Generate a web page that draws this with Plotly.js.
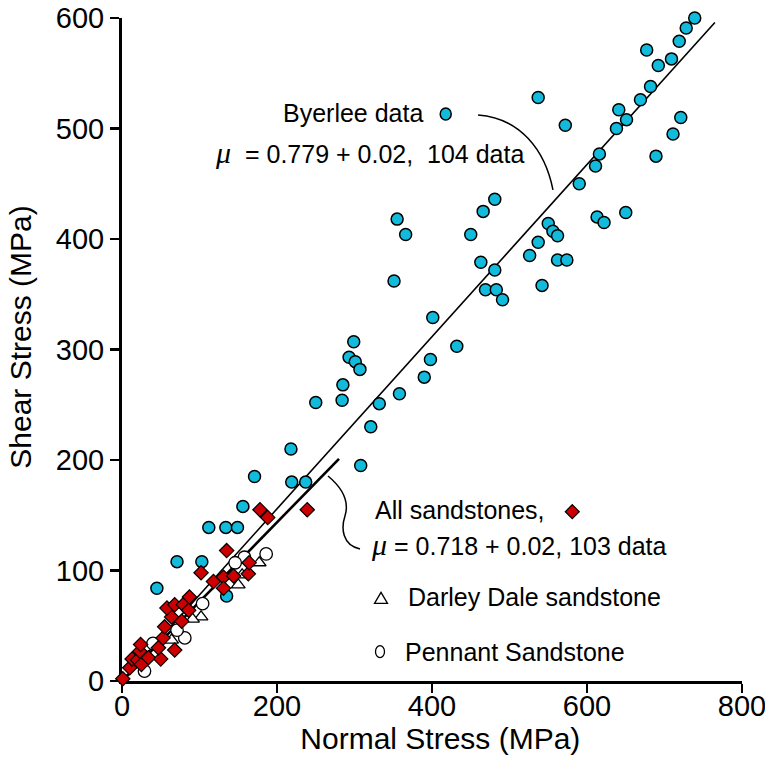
<!DOCTYPE html>
<html>
<head>
<meta charset="utf-8">
<script src="https://cdn.plot.ly/plotly-3.0.1.min.js"></script>
<style>html,body{margin:0;padding:0;background:#fff}#chart{width:765px;height:758px}</style>
</head>
<body>
<div id="chart"></div>
<script>
// Byerlee data (normal stress, shear stress) in MPa
const byerleeX = [739,728,719,677,709,692,682,669,537,641,651,638,721,711,572,616,611,689,590,481,466,450,650,613,622,550,556,562,537,526,562,574,463,481,469,483,491,542,401,366,355,351,398,390,358,432,299,293,301,307,285,284,250,332,321,308,218,171,219,237,156,112,134,149,71,103,45,135];
const byerleeY = [600,591,579,571,563,557,538,526,528,517,508,500,510,495,503,477,466,475,450,436,425,404,424,420,415,414,407,403,397,385,381,381,379,372,354,354,345,358,329,404,418,362,291,275,260,303,307,293,289,282,268,254,252,251,230,195,210,185,180,180,158,139,139,139,108,108,84,77];

// All sandstones
const sandX = [1,10,13,20,25,23,24,34,50,47,68,53,55,77,64,58,68,79,86,87,102,118,131,131,144,163,164,135,178,188,239];
const sandY = [2,12,20,19,15,27,33,21,20,30,28,39,49,54,58,66,69,69,64,76,98,90,94,84,95,97,107,118,155,148,155];

// Darley Dale sandstone
const darleyX = [177,155,150,102,91,64];
const darleyY = [107,96,87,58,56,37];

// Pennant Sandstone
const pennantX = [186,158,146,104,81,71,40,29];
const pennantY = [115,112,107,70,39,46,34,9];

// Friction fits: tau = mu * sigma_n
const muByerlee = 0.779;
const muSand = 0.718;
const byerleeFitX = [0, 765];
const sandFitX = [0, 280];

const xTicks = [0, 200, 400, 600, 800];
const yTicks = [0, 100, 200, 300, 400, 500, 600];

const FONT = 'Liberation Sans, Arial, Helvetica, sans-serif';
const CYAN = '#12BBDB';
const RED = '#CC0000';

const traces = [
  {x: byerleeFitX, y: byerleeFitX.map(v => v * muByerlee), mode: 'lines', type: 'scatter',
   line: {color: '#000', width: 1.6}, hoverinfo: 'skip', showlegend: false, cliponaxis: false},
  {x: sandFitX, y: sandFitX.map(v => v * muSand), mode: 'lines', type: 'scatter',
   line: {color: '#000', width: 2.6}, hoverinfo: 'skip', showlegend: false, cliponaxis: false},
  {x: byerleeX, y: byerleeY, mode: 'markers', type: 'scatter', name: 'Byerlee data',
   marker: {symbol: 'circle', size: 12, color: CYAN, line: {color: '#000', width: 1.5}},
   showlegend: false, cliponaxis: false},
  {x: pennantX, y: pennantY, mode: 'markers', type: 'scatter', name: 'Pennant Sandstone',
   marker: {symbol: 'circle', size: 12.5, color: '#fff', line: {color: '#000', width: 1.3}},
   showlegend: false, cliponaxis: false},
  {x: darleyX, y: darleyY, mode: 'markers', type: 'scatter', name: 'Darley Dale sandstone',
   marker: {symbol: 'triangle-up', size: 12, color: '#fff', line: {color: '#000', width: 1.3}},
   showlegend: false, cliponaxis: false},
  {x: sandX, y: sandY, mode: 'markers', type: 'scatter', name: 'All sandstones',
   marker: {symbol: 'diamond', size: 11, color: RED, line: {color: '#000', width: 1.2}},
   showlegend: false, cliponaxis: false}
];

const mu = '<span style="font-family:Liberation Serif, Times New Roman, serif;font-size:30px"><i>μ</i></span>';

const annFont = {family: FONT, size: 25, color: '#000'};
const layout = {
  width: 765, height: 758,
  margin: {l: 122, r: 23, t: 18, b: 77, pad: 0},
  paper_bgcolor: '#fff', plot_bgcolor: '#fff',
  showlegend: false,
  font: {family: FONT, color: '#000'},
  xaxis: {
    range: [0, 800], tickvals: xTicks, ticktext: xTicks.map(String),
    showgrid: false, zeroline: false, showline: true, linecolor: '#000', linewidth: 3,
    ticks: 'outside', ticklen: 9, tickwidth: 2.5, tickcolor: '#000',
    ticklabeloverflow: 'allow', ticklabelstandoff: -12,
    tickfont: {family: FONT, size: 29, color: '#000'}, layer: 'below traces',
    title: {text: '&nbsp;&nbsp;Normal Stress (MPa)', font: {family: FONT, size: 30, color: '#000'}, standoff: 8}
  },
  yaxis: {
    range: [0, 600], tickvals: yTicks, ticktext: yTicks.map(String),
    showgrid: false, zeroline: false, showline: true, linecolor: '#000', linewidth: 3,
    ticks: 'outside', ticklen: 9, tickwidth: 2.5, tickcolor: '#000',
    ticklabeloverflow: 'allow',
    tickfont: {family: FONT, size: 29, color: '#000'}, layer: 'below traces',
    title: {text: '&nbsp;&nbsp;&nbsp;Shear Stress (MPa)', font: {family: FONT, size: 30, color: '#000'}, standoff: 16}
  },
  annotations: [
    {x: 391, y: 514, xref: 'x', yref: 'y', xanchor: 'right', yanchor: 'middle', showarrow: false,
     text: 'Byerlee data', font: annFont},
    {x: 117.4, y: 478, xref: 'x', yref: 'y', xanchor: 'left', yanchor: 'middle', showarrow: false,
     text: mu + '&nbsp;&nbsp;= 0.779 + 0.02,&nbsp;&nbsp;104 data', font: annFont},
    {x: 323.9, y: 154.8, xref: 'x', yref: 'y', xanchor: 'left', yanchor: 'middle', showarrow: false,
     text: 'All sandstones,', font: annFont},
    {x: 318.5, y: 123.1, xref: 'x', yref: 'y', xanchor: 'left', yanchor: 'middle', showarrow: false,
     text: mu + '&nbsp;= 0.718 + 0.02, 103 data', font: annFont},
    {x: 366.5, y: 76.3, xref: 'x', yref: 'y', xanchor: 'left', yanchor: 'middle', showarrow: false,
     text: 'Darley Dale sandstone', font: annFont},
    {x: 363, y: 26.5, xref: 'x', yref: 'y', xanchor: 'left', yanchor: 'middle', showarrow: false,
     text: 'Pennant Sandstone', font: annFont}
  ],
  shapes: [
    // connector curves
    {type: 'path', xref: 'x', yref: 'y', path: 'M459.4,512.2 C513.5,509.5 545.8,480.6 556.1,444.4',
     line: {color: '#000', width: 1.5}},
    {type: 'path', xref: 'x', yref: 'y',
     path: 'M265.8,185.5 C281.3,176.5 294.2,163.8 287.7,149.3 C282.6,138.5 283.9,123.1 307.1,119.5',
     line: {color: '#000', width: 1.5}},
    // legend keys
    {type: 'circle', xref: 'x', yref: 'y', xsizemode: 'pixel', ysizemode: 'pixel',
     xanchor: 417.7, yanchor: 513.1, x0: -5.5, x1: 5.5, y0: -6, y1: 6,
     fillcolor: CYAN, line: {color: '#000', width: 1.5}},
    {type: 'path', xref: 'x', yref: 'y', xsizemode: 'pixel', ysizemode: 'pixel',
     xanchor: 581, yanchor: 153.2, path: 'M0,7 L7,0 L0,-7 L-7,0 Z',
     fillcolor: RED, line: {color: '#000', width: 1.2}},
    {type: 'path', xref: 'x', yref: 'y', xsizemode: 'pixel', ysizemode: 'pixel',
     xanchor: 334.2, yanchor: 74.8, path: 'M-6.5,-5 L6.5,-5 L0,6 Z',
     fillcolor: '#fff', line: {color: '#000', width: 1.3}},
    {type: 'circle', xref: 'x', yref: 'y', xsizemode: 'pixel', ysizemode: 'pixel',
     xanchor: 332.9, yanchor: 26.5, x0: -4.5, x1: 4.5, y0: -6, y1: 6,
     fillcolor: '#fff', line: {color: '#000', width: 1.3}}
  ]
};

Plotly.newPlot('chart', traces, layout, {displayModeBar: false, staticPlot: true});
</script>
</body>
</html>
